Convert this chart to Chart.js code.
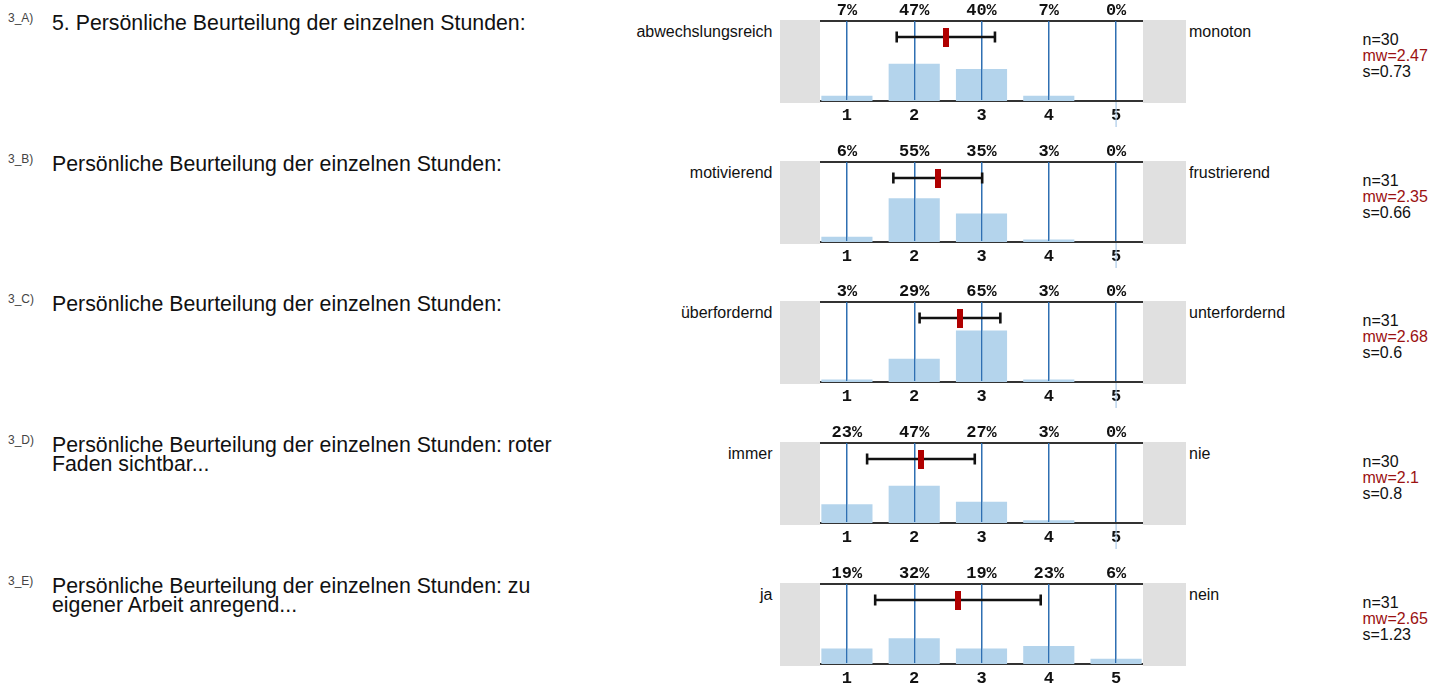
<!DOCTYPE html>
<html><head><meta charset="utf-8">
<script src="https://cdn.jsdelivr.net/npm/chart.js@4.4.1/dist/chart.umd.min.js"></script>
<style>
html,body{margin:0;padding:0;background:#fff;overflow:hidden;}
body{width:1447px;height:684px;position:relative;font-family:'Liberation Sans',Arial,Helvetica,sans-serif;color:#111;}
.abs{position:absolute;white-space:nowrap;}
.q{font-size:21.3px;line-height:18.4px;}
.sup{font-size:12px;line-height:12px;color:#444;}
.gray{background:#e0e0e0;}
.lab{font-size:16px;line-height:16px;}
.labL{text-align:right;}
.stats{font-size:16px;line-height:16.2px;}
.mw{color:#9b1111;}
.cv{position:absolute;}
</style></head><body>
<script>
// ---- data ----
const itemIds = ['3_A)', '3_B)', '3_C)', '3_D)', '3_E)'];
const questions = [
  '5. Persönliche Beurteilung der einzelnen Stunden:',
  'Persönliche Beurteilung der einzelnen Stunden:',
  'Persönliche Beurteilung der einzelnen Stunden:',
  'Persönliche Beurteilung der einzelnen Stunden: roter<br>Faden sichtbar...',
  'Persönliche Beurteilung der einzelnen Stunden: zu<br>eigener Arbeit anregend...'
];
const leftLabels = ['abwechslungsreich', 'motivierend', 'überfordernd', 'immer', 'ja'];
const rightLabels = ['monoton', 'frustrierend', 'unterfordernd', 'nie', 'nein'];
const scaleTicks = [1, 2, 3, 4, 5];
const pctA = [6.67, 46.67, 40.00, 6.67, 0];
const pctB = [6.45, 54.84, 35.48, 3.23, 0];
const pctC = [3.23, 29.03, 64.52, 3.23, 0];
const pctD = [23.33, 46.67, 26.67, 3.33, 0];
const pctE = [19.35, 32.26, 19.35, 22.58, 6.45];
const percents = [pctA, pctB, pctC, pctD, pctE];
const nValues = [30, 31, 31, 30, 31];
const means = [2.47, 2.35, 2.68, 2.1, 2.65];
const sds = [0.73, 0.66, 0.6, 0.8, 1.23];

// ---- layout ----
const TOP0 = 20.7, STEP = 140.8;
const PLOT_L = 820, PLOT_W = 323, PLOT_H = 80, AX_TOP = 21, AX_BOT = 27;
const ERR_ROW = 80;
const MONO = "'Liberation Mono','Courier New',monospace";

const meanMark = document.createElement('canvas');
meanMark.width = 6; meanMark.height = 19;
(function(){ const c = meanMark.getContext('2d'); c.fillStyle = '#b00000'; c.fillRect(0,0,6,19); })();

const gridOverBars = {
  id: 'gridOverBars',
  beforeDatasetDraw(chart, args) {
    if (args.index === 1) {
      const ctx = chart.ctx; ctx.save();
      chart.scales.x.drawGrid(chart.chartArea);
      ctx.restore();
    }
  },
  afterDraw(chart, args, opts) {
    if (!opts.ext) return;
    const ctx = chart.ctx, x = chart.scales.x.getPixelForValue(5), b = chart.chartArea.bottom;
    ctx.save(); ctx.strokeStyle = '#a9c9e8'; ctx.lineWidth = 1.2;
    ctx.beginPath(); ctx.moveTo(x, b + 1); ctx.lineTo(x, b + 26); ctx.stroke(); ctx.restore();
  }
};

function el(cls, html, style) {
  const d = document.createElement('div');
  d.className = 'abs ' + cls; d.innerHTML = html;
  Object.assign(d.style, style); document.body.appendChild(d); return d;
}

for (let i = 0; i < 5; i++) {
  const top = Math.round(TOP0 + i * STEP);
  el('sup', itemIds[i], {left: '8px', top: (top - 9.2) + 'px'});
  el('q', questions[i], {left: '52px', top: (top - 6.9) + 'px'});
  el('gray', '', {left: '780px', top: (top - 1.5) + 'px', width: (PLOT_L - 780) + 'px', height: '83px'});
  el('gray', '', {left: '1143px', top: (top - 1.5) + 'px', width: '42.7px', height: '83px'});
  el('lab labL', leftLabels[i], {left: '0px', width: '772.5px', top: (top + 3) + 'px'});
  el('lab', rightLabels[i], {left: '1189px', top: (top + 3) + 'px'});
  el('stats', 'n=' + nValues[i] + '<br><span class="mw">mw=' + means[i] + '</span><br>s=' + sds[i],
     {left: '1362.5px', top: (top + 10.6) + 'px'});

  const wrap = document.createElement('div');
  wrap.className = 'cv';
  Object.assign(wrap.style, {left: PLOT_L + 'px', top: (top - AX_TOP) + 'px', width: PLOT_W + 'px', height: (AX_TOP + PLOT_H + AX_BOT) + 'px'});
  const cv = document.createElement('canvas'); wrap.appendChild(cv); document.body.appendChild(wrap);

  const pcts = percents[i];
  const pctLabels = pcts.map(v => Math.round(v) + '%');
  const m = means[i], s = sds[i];
  const setTicks = ax => { ax.ticks = scaleTicks.map(v => ({value: v})); };
  const fitTo = h => ax => { ax.height = h; ax.paddingLeft = 0; ax.paddingRight = 0; };
  const tickFont = {family: MONO, size: 17, weight: 'bold'};

  new Chart(cv, {
    type: 'bar',
    data: {
      datasets: [
        {type: 'line', data: [{x: m, y: ERR_ROW}], showLine: false, pointStyle: meanMark, pointRadius: 10, order: 1, clip: false},
        {type: 'line', data: [{x: m - s, y: ERR_ROW}, {x: m + s, y: ERR_ROW}], borderColor: '#111', borderWidth: 2.6,
         pointStyle: 'line', pointRotation: 90, pointRadius: 5.5, pointBorderWidth: 2.6, pointBorderColor: '#111', pointBackgroundColor: '#111', order: 2, clip: false},
        {type: 'bar', data: scaleTicks.map((v, k) => ({x: v, y: pcts[k]})), backgroundColor: '#b4d4ec', borderWidth: 0,
         categoryPercentage: 1, barPercentage: 0.76, order: 3}
      ]
    },
    options: {
      responsive: true, maintainAspectRatio: false, animation: false, events: [],
      layout: {padding: 0, autoPadding: false},
      plugins: {legend: {display: false}, tooltip: {enabled: false}, gridOverBars: {ext: i < 4}},
      scales: {
        x: {type: 'linear', position: 'bottom', min: 0.6, max: 5.4, offset: false,
            afterBuildTicks: setTicks, afterFit: fitTo(AX_BOT),
            grid: {display: true, drawTicks: false, offset: false, color: '#2f6fb2', lineWidth: 1.3},
            border: {display: true, color: '#333', width: 2},
            ticks: {padding: 5, color: '#111', font: tickFont, maxRotation: 0, autoSkip: false, callback: (v) => String(v)}},
        x2: {type: 'linear', position: 'top', min: 0.6, max: 5.4, offset: false,
            afterBuildTicks: setTicks, afterFit: fitTo(AX_TOP),
            grid: {display: false, drawTicks: false},
            border: {display: true, color: '#333', width: 2},
            ticks: {padding: 0, color: '#111', font: tickFont, maxRotation: 0, autoSkip: false, callback: (v, k) => pctLabels[k]}},
        y: {display: false, min: 0, max: 100}
      }
    },
    plugins: [gridOverBars]
  });
}
</script>
</body></html>
